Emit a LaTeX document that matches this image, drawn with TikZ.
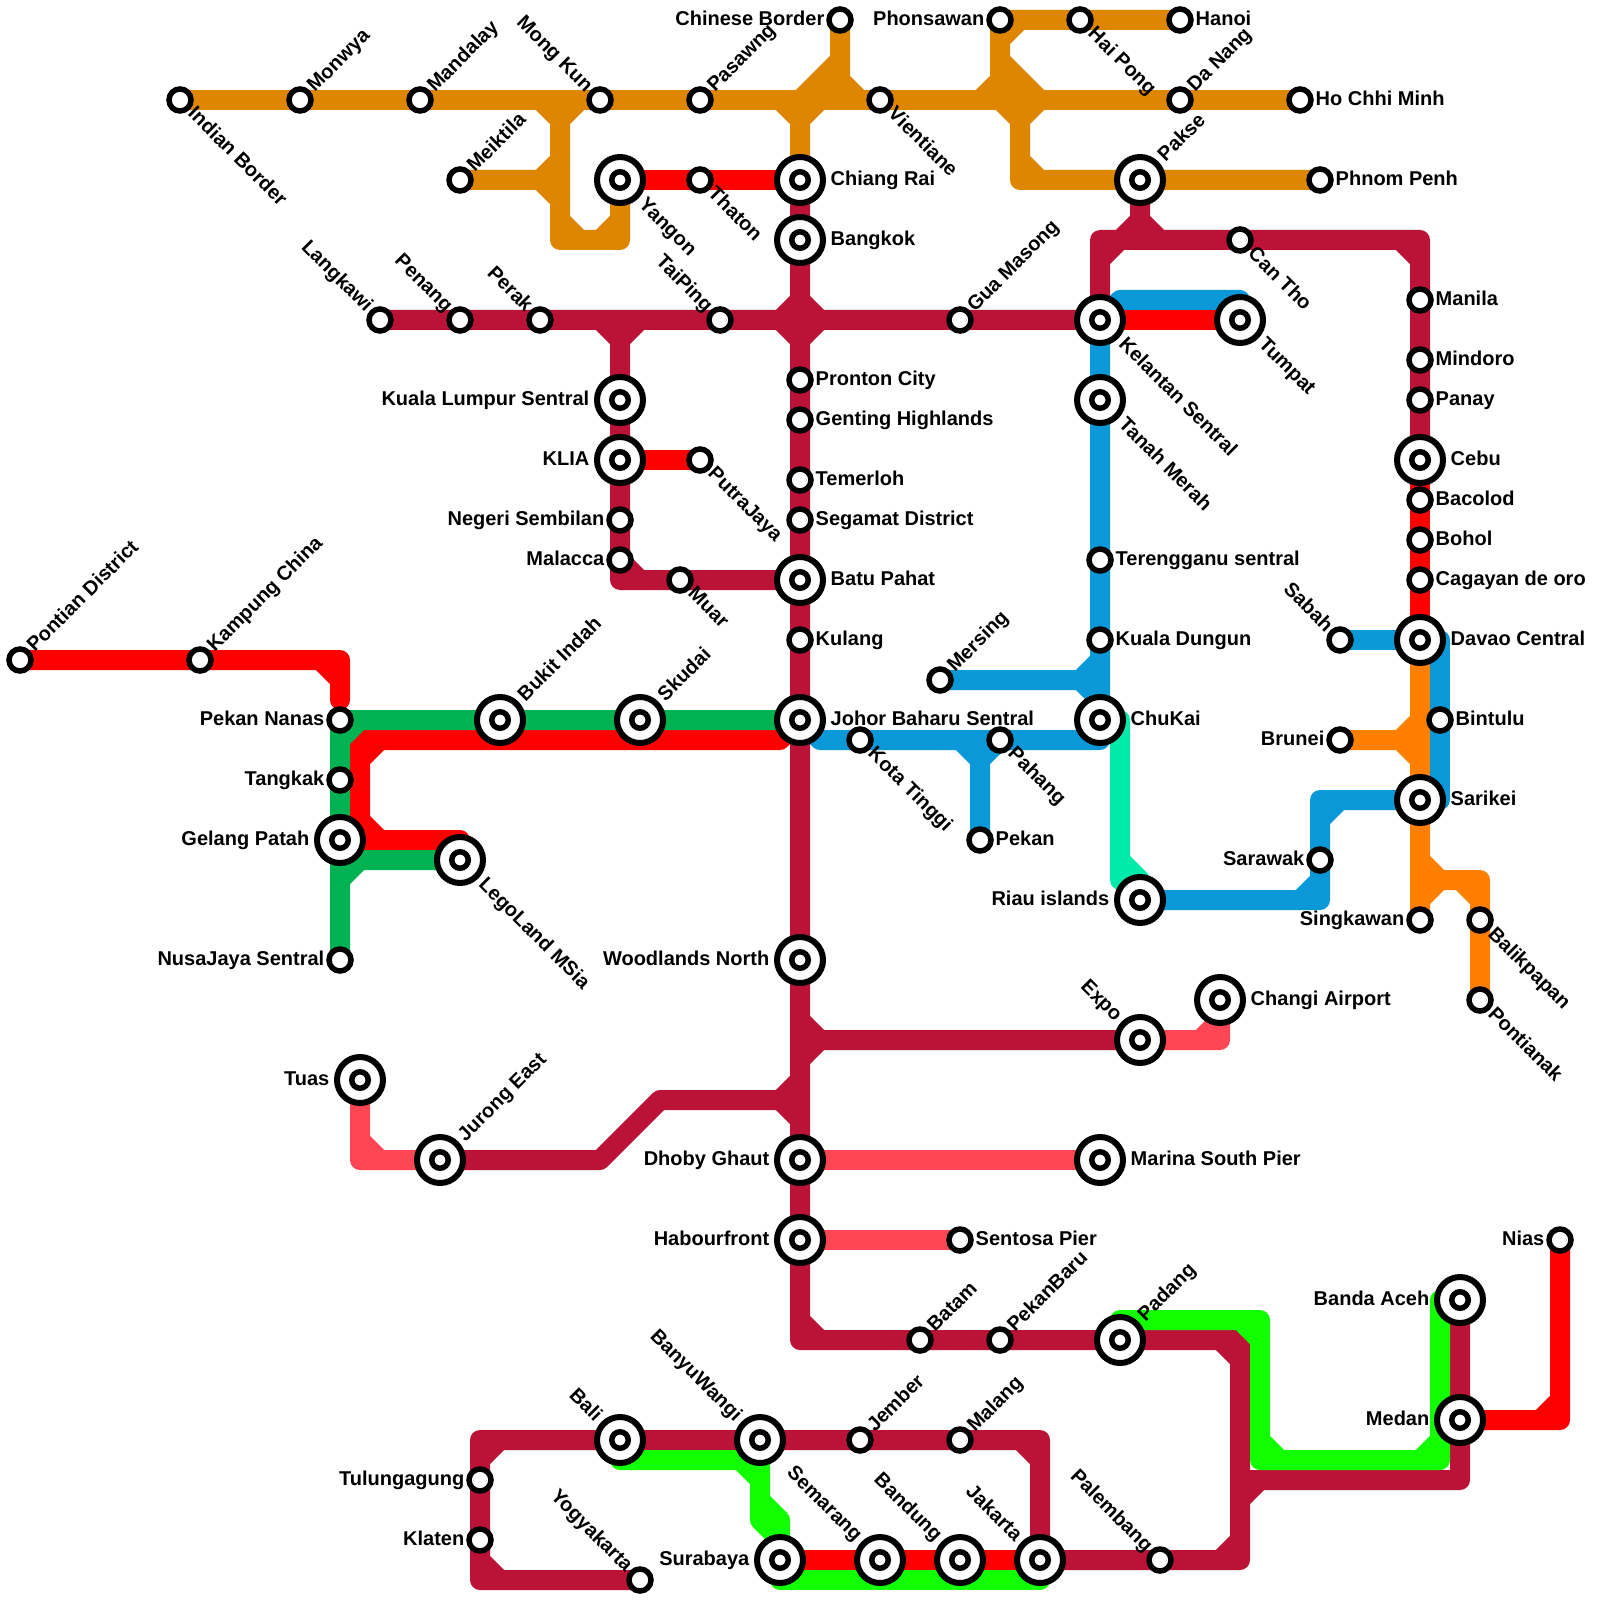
\documentclass[tikz,border=0pt]{standalone}
\usepackage{fontspec}
\setmainfont{Liberation Sans}
\usetikzlibrary{backgrounds}
\definecolor{orangeA}{HTML}{DF8600}
\definecolor{orangeB}{HTML}{FF8000}
\definecolor{maroon}{HTML}{BB1238}
\definecolor{metroblue}{HTML}{0B98D8}
\definecolor{greenA}{HTML}{00B251}
\definecolor{greenB}{HTML}{11FF00}
\definecolor{seafoam}{HTML}{00EBAA}
\definecolor{redA}{HTML}{FF0000}
\definecolor{redB}{HTML}{FF4654}
\tikzset{
lab/.style={font=\fontsize{5.69pt}{6pt}\selectfont\bfseries,inner sep=0pt,text height=1.5mm,text depth=.4mm},
labe/.style={label={[lab,anchor=west]0:#1}},
labw/.style={label={[lab,anchor=east]180:#1}},
labne/.style={label={[lab,rotate=45,anchor=west]45:#1}},
labse/.style={label={[lab,rotate=-45,anchor=west]-45:#1}},
labnw/.style={label={[lab,rotate=-45,anchor=east]135:#1}},
stop/.style={circle,draw=black,fill=white,line width=.55mm,minimum size=2.2mm,outer sep=.4mm,inner sep=0pt},
hub/.style={circle,draw=black,fill=white,line width=.6mm,minimum size=4.6mm,outer sep=.7mm,inner sep=0pt,
path picture={\draw[line width=.55mm] (path picture bounding box.center) circle (.825mm);}},
route/.style={line width=2mm,line join=round,line cap=round}
}
\begin{document}
\begin{tikzpicture}[x=2mm,y=-2mm]
\useasboundingbox (0,0) rectangle (80,80);
% top
\node[stop,labse=Indian Border] (indian) at (9,5) {};
\node[stop,labne=Monwya] (monwya) at (15,5) {};
\node[stop,labne=Mandalay] (mandalay) at (21,5) {};
\node[stop,labnw=Mong Kun] (mongkun) at (30,5) {};
\node[stop,labne=Pasawng] (pasawng) at (35,5) {};
\node[stop,labse=Vientiane] (vientiane) at (44,5) {};
\node[stop,labne=Da Nang] (danang) at (59,5) {};
\node[stop,labe=Ho Chhi Minh] (hochiminh) at (65,5) {};
\node[stop,labw=Chinese Border] (chinese) at (42,1) {};
\node[stop,labw=Phonsawan] (phonsawan) at (50,1) {};
\node[stop,labse=Hai Pong] (haipong) at (54,1) {};
\node[stop,labe=Hanoi] (hanoi) at (59,1) {};
\node[stop,labne=Meiktila] (meiktila) at (23,9) {};
\node[hub,labse=Yangon] (yangon) at (31,9) {};
\node[stop,labse=Thaton] (thaton) at (35,9) {};
\node[hub,labe=Chiang Rai] (chiangrai) at (40,9) {};
\node[hub,labe=Bangkok] (bangkok) at (40,12) {};
\node[hub,labne=Pakse] (pakse) at (57,9) {};
\node[stop,labe=Phnom Penh] (phnompenh) at (66,9) {};
% malaya
\node[stop,labnw=Langkawi] (langkawi) at (19,16) {};
\node[stop,labnw=Penang] (penang) at (23,16) {};
\node[stop,labnw=Perak] (perak) at (27,16) {};
\node[stop,labnw=TaiPing] (taiping) at (36,16) {};
\node[stop,labne=Gua Masong] (guamasong) at (48,16) {};
\node[hub,labse=Kelantan Sentral] (kelantan) at (55,16) {};
\node[hub,labse=Tumpat] (tumpat) at (62,16) {};
\node[stop,labse=Can Tho] (cantho) at (62,12) {};
\node[hub,labw=Kuala Lumpur Sentral] (klsentral) at (31,20) {};
\node[hub,labw=KLIA] (klia) at (31,23) {};
\node[stop,labse=PutraJaya] (putrajaya) at (35,23) {};
\node[stop,labw=Negeri Sembilan] (negeri) at (31,26) {};
\node[stop,labw=Malacca] (malacca) at (31,28) {};
\node[stop,labse=Muar] (muar) at (34,29) {};
\node[stop,labe=Pronton City] (pronton) at (40,19) {};
\node[stop,labe=Genting Highlands] (genting) at (40,21) {};
\node[stop,labe=Temerloh] (temerloh) at (40,24) {};
\node[stop,labe=Segamat District] (segamat) at (40,26) {};
\node[hub,labe=Batu Pahat] (batupahat) at (40,29) {};
\node[stop,labe=Kulang] (kulang) at (40,32) {};
\node[hub,labe=Johor Baharu Sentral] (johor) at (40,36) {};
\node[hub,labse=Tanah Merah] (tanahmerah) at (55,20) {};
\node[stop,labe=Terengganu sentral] (terengganu) at (55,28) {};
\node[stop,labe=Kuala Dungun] (dungun) at (55,32) {};
\node[stop,labne=Mersing] (mersing) at (47,34) {};
\node[hub,labe=ChuKai] (chukai) at (55,36) {};
\node[stop,labse=Kota Tinggi] (kotatinggi) at (43,37) {};
\node[stop,labse=Pahang] (pahang) at (50,37) {};
\node[stop,labe=Pekan] (pekan) at (49,42) {};
\node[hub,labw=Riau islands] (riau) at (57,45) {};
% philippines, borneo
\node[stop,labe=Manila] (manila) at (71,15) {};
\node[stop,labe=Mindoro] (mindoro) at (71,18) {};
\node[stop,labe=Panay] (panay) at (71,20) {};
\node[hub,labe=Cebu] (cebu) at (71,23) {};
\node[stop,labe=Bacolod] (bacolod) at (71,25) {};
\node[stop,labe=Bohol] (bohol) at (71,27) {};
\node[stop,labe=Cagayan de oro] (cagayan) at (71,29) {};
\node[hub,labe=Davao Central] (davao) at (71,32) {};
\node[stop,labnw=Sabah] (sabah) at (67,32) {};
\node[stop,labe=Bintulu] (bintulu) at (72,36) {};
\node[stop,labw=Brunei] (brunei) at (67,37) {};
\node[hub,labe=Sarikei] (sarikei) at (71,40) {};
\node[stop,labw=Sarawak] (sarawak) at (66,43) {};
\node[stop,labw=Singkawan] (singkawan) at (71,46) {};
\node[stop,labse=Balikpapan] (balikpapan) at (74,46) {};
\node[stop,labse=Pontianak] (pontianak) at (74,50) {};
% johor
\node[stop,labne=Pontian District] (pontian) at (1,33) {};
\node[stop,labne=Kampung China] (kampung) at (10,33) {};
\node[stop,labw=Pekan Nanas] (pekannanas) at (17,36) {};
\node[stop,labw=Tangkak] (tangkak) at (17,39) {};
\node[hub,labw=Gelang Patah] (gelang) at (17,42) {};
\node[hub,labne=Bukit Indah] (bukitindah) at (25,36) {};
\node[hub,labne=Skudai] (skudai) at (32,36) {};
\node[hub,labse=LegoLand MSia] (legoland) at (23,43) {};
\node[stop,labw=NusaJaya Sentral] (nusajaya) at (17,48) {};
% singapore
\node[hub,labw=Woodlands North] (woodlands) at (40,48) {};
\node[hub,labnw=Expo] (expo) at (57,52) {};
\node[hub,labe=Changi Airport] (changi) at (61,50) {};
\node[hub,labw=Tuas] (tuas) at (18,54) {};
\node[hub,labne=Jurong East] (jurong) at (22,58) {};
\node[hub,labw=Dhoby Ghaut] (dhoby) at (40,58) {};
\node[hub,labe=Marina South Pier] (marina) at (55,58) {};
\node[hub,labw=Habourfront] (habour) at (40,62) {};
\node[stop,labe=Sentosa Pier] (sentosa) at (48,62) {};
% indonesia
\node[stop,labne=Batam] (batam) at (46,67) {};
\node[stop,labne=PekanBaru] (pekanbaru) at (50,67) {};
\node[hub,labne=Padang] (padang) at (56,67) {};
\node[hub,labw=Banda Aceh] (banda) at (73,65) {};
\node[hub,labw=Medan] (medan) at (73,71) {};
\node[stop,labw=Nias] (nias) at (78,62) {};
\node[hub,labnw=Bali] (bali) at (31,72) {};
\node[hub,labnw=BanyuWangi] (banyuwangi) at (38,72) {};
\node[stop,labne=Jember] (jember) at (43,72) {};
\node[stop,labne=Malang] (malang) at (48,72) {};
\node[stop,labw=Tulungagung] (tulungagung) at (24,74) {};
\node[stop,labw=Klaten] (klaten) at (24,77) {};
\node[stop,labnw=Yogyakarta] (yogyakarta) at (32,79) {};
\node[hub,labw=Surabaya] (surabaya) at (39,78) {};
\node[hub,labnw=Semarang] (semarang) at (44,78) {};
\node[hub,labnw=Bandung] (bandung) at (48,78) {};
\node[hub,labnw=Jakarta] (jakarta) at (52,78) {};
\node[stop,labnw=Palembang] (palembang) at (58,78) {};
\begin{scope}[on background layer]
% orange
\draw[route,orangeA] (indian.center) -- (hochiminh.center);
\draw[route,orangeA] (28,5) -- (28,12) -- (31,12) -- (yangon.center) (27,5) -- (28,6) -- (29,5) (28,11) -- (29,12) (30,12) -- (31,11);
\draw[route,orangeA] (meiktila.center) -- (28,9) (28,8) -- (27,9) -- (28,10);
\draw[route,orangeA] (chiangrai.center) -- (40,5) -- (42,3) (39,5) -- (40,6) -- (41,5) (41.4,4.4) -- (42,5);
\draw[route,orangeA] (chinese.center) -- (42,5) (43,5) -- (42,4);
\draw[route,orangeA] (hanoi.center) -- (phonsawan.center) -- (50,5) (50,2) -- (51,1) (49,5) -- (50,4) (50,3) -- (52,5) (50.6,4.4) -- (50,5);
\draw[route,orangeA] (51,5) -- (51,9) -- (phnompenh.center) (50,5) -- (51,6) -- (52,5) (51,8) -- (52,9);
\draw[route,orangeB] (davao.center) -- (singkawan.center) (brunei.center) -- (71,37) (71,36) -- (70,37) -- (71,38);
\draw[route,orangeB] (71,44) -- (74,44) -- (pontianak.center) (71,43) -- (72,44) -- (71,45) (73,44) -- (74,45);
% red under the rest
\draw[route,redA] (pontian.center) -- (17,33) -- (17,35) (16,33) -- (17,34);
\draw[route,redA] (johor.center) -- (39,37) -- (18,37) -- (18,42) -- (23,42) -- (legoland.center) (18,38) -- (19,37) (18,41) -- (19,42);
\draw[route,greenA] (pekannanas.center) -- (johor.center) (pekannanas.center) -- (nusajaya.center) (gelang.center) -- (17,43) -- (legoland.center) (17,37) -- (18,36) (17,44) -- (18,43);
% blue
\draw[route,metroblue] (tumpat.center) -- (62,15) -- (56,15) -- (kelantan.center);
\draw[route,metroblue] (kelantan.center) -- (chukai.center) (mersing.center) -- (54,34) (55,33) -- (54,34) -- (55,35);
\draw[route,metroblue] (johor.center) -- (41,37) -- (55,37) -- (chukai.center) (pekan.center) -- (49,37) (48,37) -- (49,38) -- (50,37);
\draw[route,seafoam] (chukai.center) -- (56,36) -- (56,44) -- (57,44) -- (riau.center) (56,43) -- (57,44);
\draw[route,metroblue] (riau.center) -- (66,45) -- (66,40) -- (sarikei.center) (65,45) -- (66,44) (66,41) -- (67,40);
\draw[route,metroblue] (sabah.center) -- (davao.center) -- (72,32) -- (72,40) -- (sarikei.center);
% maroon
\draw[route,maroon] (langkawi.center) -- (kelantan.center) (39,16) -- (40,15) -- (41,16) (39,16) -- (40,17) -- (41,16);
\draw[route,maroon] (31,16) -- (31,29) -- (batupahat.center) (30,16) -- (31,17) -- (32,16) (31,28) -- (32,29);
\draw[route,maroon] (bangkok.center) -- (chiangrai.center) (bangkok.center) -- (40,67) -- (padang.center) (40,66) -- (41,67);
\draw[route,maroon] (kelantan.center) -- (55,12) -- (71,12) -- (cebu.center) (55,13) -- (56,12) (70,12) -- (71,13);
\draw[route,maroon] (pakse.center) -- (57,12) (56,12) -- (57,11) -- (58,12);
\draw[route,maroon] (40,52) -- (expo.center) (40,51) -- (41,52) -- (40,53);
\draw[route,maroon] (40,55) -- (33,55) -- (30,58) -- (jurong.center) (40,54) -- (39,55) -- (40,56);
\draw[route,maroon] (padang.center) -- (62,67) -- (62,78) -- (jakarta.center) (61,67) -- (62,68) (62,77) -- (61,78);
\draw[route,maroon] (62,74) -- (73,74) -- (banda.center) (62,75) -- (63,74);
\draw[route,maroon] (yogyakarta.center) -- (24,79) -- (24,72) -- (52,72) -- (jakarta.center) (24,78) -- (25,79) (24,73) -- (25,72) (51,72) -- (52,73);
% red
\draw[route,redA] (yangon.center) -- (chiangrai.center);
\draw[route,redA] (klia.center) -- (putrajaya.center);
\draw[route,redA] (kelantan.center) -- (tumpat.center);
\draw[route,redA] (cebu.center) -- (davao.center);
\draw[route,redA] (medan.center) -- (78,71) -- (nias.center) (77,71) -- (78,70);
\draw[route,redA] (surabaya.center) -- (jakarta.center);
\draw[route,redB] (expo.center) -- (61,52) -- (changi.center) (60,52) -- (61,51);
\draw[route,redB] (tuas.center) -- (18,58) -- (jurong.center) (18,57) -- (19,58);
\draw[route,redB] (dhoby.center) -- (marina.center);
\draw[route,redB] (habour.center) -- (sentosa.center);
% bright green
\draw[route,greenB] (padang.center) -- (56,66) -- (63,66) -- (63,73) -- (72,73) -- (72,65) -- (banda.center) (62,66) -- (63,67) (63,72) -- (64,73) (71,73) -- (72,72);
\draw[route,greenB] (bali.center) -- (31,73) -- (38,73) -- (38,76) -- (39,76) -- (surabaya.center) (37,73) -- (38,74) (38,75) -- (39,76) (38,76) -- (39,77);
\draw[route,greenB] (surabaya.center) -- (39,79) -- (52,79) -- (jakarta.center);
\end{scope}
\end{tikzpicture}
\end{document}
